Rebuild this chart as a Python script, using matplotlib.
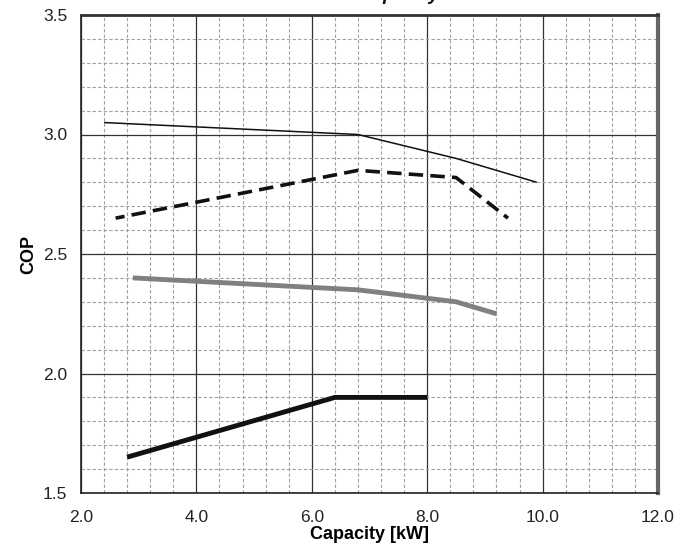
import matplotlib
matplotlib.use("Agg")
import matplotlib.pyplot as plt
from matplotlib.ticker import MultipleLocator

plt.rcParams['font.family'] = ['Liberation Sans', 'DejaVu Sans']

# Data
s1_x = [2.4, 6.8, 8.5, 9.9]
s1_y = [3.05, 3.0, 2.9, 2.8]
s2_x = [2.6, 6.8, 8.5, 9.4]
s2_y = [2.65, 2.85, 2.82, 2.65]
s3_x = [2.9, 6.8, 8.5, 9.2]
s3_y = [2.4, 2.35, 2.30, 2.25]
s4_x = [2.8, 6.4, 8.0]
s4_y = [1.65, 1.9, 1.9]
x_ticks = [2.0, 4.0, 6.0, 8.0, 10.0, 12.0]
y_ticks = [1.5, 2.0, 2.5, 3.0, 3.5]

W, H = 691, 546
fig = plt.figure(figsize=(W/100, H/100), dpi=100)
L, R, T, B = 81, 658, 15, 493
ax = fig.add_axes([L/W, 1-B/H, (R-L)/W, (B-T)/H])

ax.set_xlim(2, 12)
ax.set_ylim(1.5, 3.5)
ax.xaxis.set_minor_locator(MultipleLocator(0.4))
ax.yaxis.set_minor_locator(MultipleLocator(0.1))
ax.set_xticks(x_ticks)
ax.set_yticks(y_ticks)
ax.set_xticklabels([f"{v:.1f}" for v in x_ticks], fontsize=12.5, color='#222222')
ax.set_yticklabels([f"{v:.1f}" for v in y_ticks], fontsize=12.5, color='#222222')
ax.tick_params(which='both', length=0)
ax.tick_params(axis='x', pad=12.5)
ax.tick_params(axis='y', pad=10)

ax.grid(which='minor', color='#a0a0a0', linestyle=(0, (3, 2)), linewidth=0.8)
ax.grid(which='major', color='#333333', linestyle='-', linewidth=0.9)
ax.set_axisbelow(True)

for side in ['left', 'bottom']:
    ax.spines[side].set_color('#222222')
    ax.spines[side].set_linewidth(1.2)
ax.spines['top'].set_color('#333333')
ax.spines['top'].set_linewidth(2.0)
ax.spines['right'].set_color('#666666')
ax.spines['right'].set_linewidth(3.0)

ax.plot(s1_x, s1_y, color='#111111', linewidth=1.1, solid_capstyle='butt')
ax.plot(s2_x, s2_y, color='#111111', linewidth=2.6, linestyle=(1.5, (4, 2)))
ax.plot(s3_x, s3_y, color='#808080', linewidth=3.5, solid_capstyle='butt')
ax.plot(s4_x, s4_y, color='#111111', linewidth=3.5, solid_capstyle='butt')

ax.set_xlabel('Capacity [kW]', fontsize=13, fontweight='bold', labelpad=0.5)
ax.set_ylabel('COP', fontsize=13, fontweight='bold', labelpad=4)

fig.text(358/W, 1 + 0.5/H, 'Capacity', fontsize=14, fontweight='bold', fontstyle='italic',
         ha='left', va='baseline', color='#111111')

fig.savefig('out.png', dpi=100)
